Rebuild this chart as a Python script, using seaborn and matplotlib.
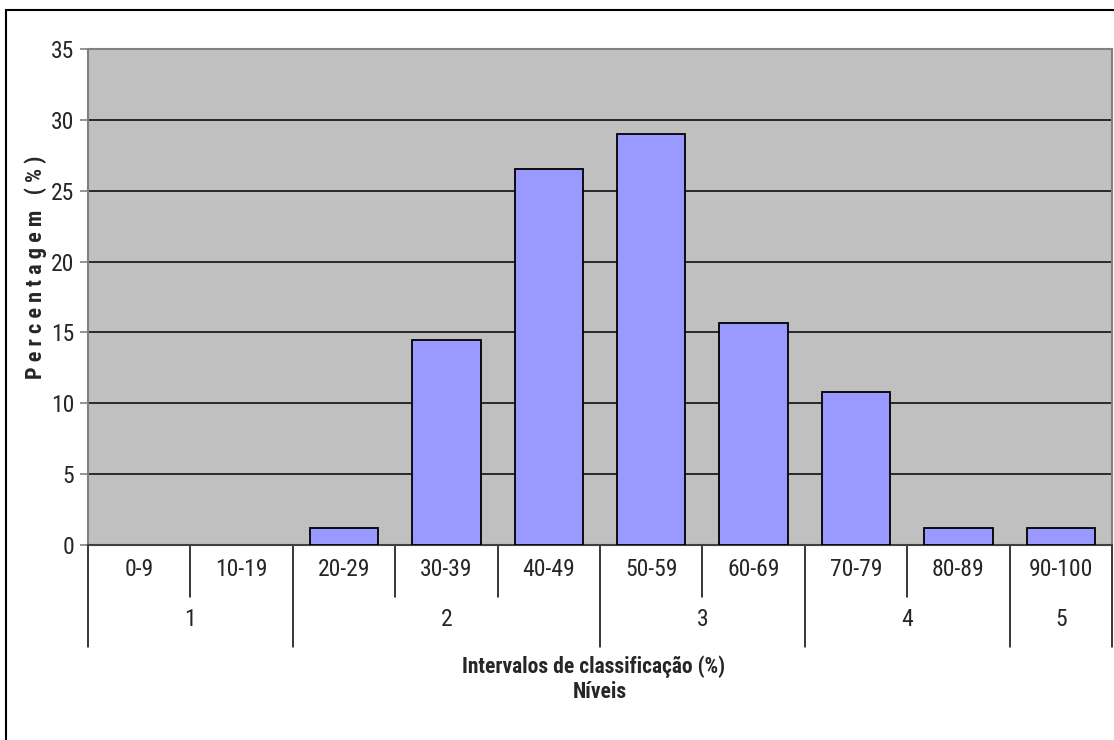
import matplotlib
matplotlib.use("Agg")
import matplotlib.pyplot as plt
import matplotlib.transforms as mtransforms
from matplotlib.patches import Rectangle
import seaborn as sns
import pandas as pd

# Score intervals and the share of students in each
intervals = ["0-9", "10-19", "20-29", "30-39", "40-49",
             "50-59", "60-69", "70-79", "80-89", "90-100"]
percentages = [0, 0, 1.2, 14.5, 26.5, 29.0, 15.7, 10.8, 1.2, 1.2]

# Levels and how many intervals each one covers
levels = ["1", "2", "3", "4", "5"]
level_sizes = [2, 3, 2, 2, 1]

y_ticks = [0, 5, 10, 15, 20, 25, 30, 35]

sns.set_style("white")
plt.rcParams["font.family"] = ["Roboto Condensed", "Liberation Sans", "DejaVu Sans"]

W, H = 1114, 740
fig = plt.figure(figsize=(W / 100, H / 100), dpi=100)
ax = fig.add_axes([88 / W, (H - 545) / H, (1112 - 88) / W, (545 - 49) / H])
ax.set_facecolor("#C0C0C0")

df = pd.DataFrame({"intervalo": intervals, "pct": percentages})
sns.barplot(data=df, x="intervalo", y="pct", order=intervals, color="#9999FF",
            saturation=1, edgecolor="black", linewidth=1.3, width=0.667, ax=ax, zorder=3)
# empty intervals show no outline
for bar in ax.patches:
    if bar.get_height() == 0:
        bar.set_linewidth(0)

ax.set_ylim(0, 35)
ax.set_xlim(-0.5, len(intervals) - 0.5)
ax.set_yticks(y_ticks)
ax.set_yticklabels([str(t) for t in y_ticks], fontsize=17)
for t in y_ticks[1:-1]:
    ax.axhline(t, color="black", lw=1.1, zorder=1)

ax.tick_params(axis="y", which="major", direction="out", length=6, width=1.2,
               color="#808080", pad=4, left=True)
ax.tick_params(axis="x", bottom=False, labelbottom=False)
ax.set_xlabel("")
ax.set_ylabel("")
for side in ["top", "right", "left", "bottom"]:
    ax.spines[side].set_visible(True)
    ax.spines[side].set_color("#808080")
    ax.spines[side].set_linewidth(1.5)
ax.spines["bottom"].set_color("#404040")

# Two-row category axis: interval labels above, level labels below
trans = mtransforms.blended_transform_factory(ax.transData, ax.transAxes)
axh = 545 - 49
short_drop = 52 / axh
long_drop = 102 / axh

bounds = [0]
for s in level_sizes:
    bounds.append(bounds[-1] + s)
level_edges = set(bounds)

for i in range(len(intervals) + 1):
    drop = long_drop if i in level_edges else short_drop
    ax.plot([i - 0.5, i - 0.5], [0, -drop], color="black", lw=1.1,
            transform=trans, clip_on=False)

for i, lab in enumerate(intervals):
    ax.text(i, -24 / axh, lab, transform=trans, ha="center", va="center", fontsize=17)

for k, lab in enumerate(levels):
    mid = (bounds[k] + bounds[k + 1] - 1) / 2
    ax.text(mid, -75 / axh, lab, transform=trans, ha="center", va="center", fontsize=17)

fig.text(594 / W, 1 - 667 / H, "Intervalos de classificação (%)", ha="center",
         va="center", fontsize=15.5, fontweight="bold")
fig.text(600 / W, 1 - 692 / H, "Níveis", ha="center", va="center",
         fontsize=15.5, fontweight="bold")
fig.text(36 / W, 1 - 267 / H, "P e r c e n t a g e m   ( % )", rotation=90,
         ha="center", va="center", fontsize=16, fontweight="bold")

# Frame around the whole chart
fig.patches.append(Rectangle((6 / W, -0.1), 1.2, (1 - 10 / H) + 0.1,
                             transform=fig.transFigure, fill=False,
                             edgecolor="black", lw=1.5))

fig.savefig("out.png", dpi=100)
